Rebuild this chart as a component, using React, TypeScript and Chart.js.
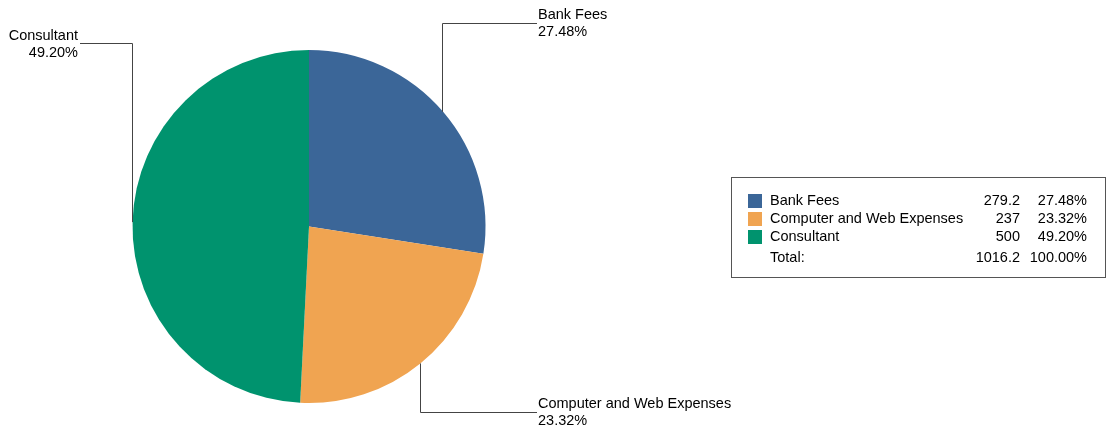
import React, { useEffect, useRef } from "react";
import { Chart, registerables } from "chart.js";

Chart.register(...registerables);

const categories = ["Bank Fees", "Computer and Web Expenses", "Consultant"];
const values = [279.2, 237, 500];
const colors = ["#3B6698", "#F0A451", "#00936E"];
const totalLabel = "Total:";

const FONT = '14.5px "Liberation Sans", Arial, sans-serif';

// percentages in hundredths, rounded so that they sum to 100.00% (largest remainder)
function percents(vals: number[]): string[] {
  const total = vals.reduce((a, b) => a + b, 0);
  const raw = vals.map((v) => (v / total) * 10000);
  const fl = raw.map((r) => Math.floor(r));
  let rest = 10000 - fl.reduce((a, b) => a + b, 0);
  const order = raw.map((r, i) => [r - Math.floor(r), i]).sort((a, b) => b[0] - a[0]);
  for (let k = 0; k < rest; k++) fl[order[k][1]] += 1;
  return fl.map((f) => (f / 100).toFixed(2) + "%");
}

const overlayPlugin = {
  id: "overlay",
  afterDraw(chart: any) {
    const ctx = chart.ctx as CanvasRenderingContext2D;
    const meta = chart.getDatasetMeta(0);
    const total = values.reduce((a, b) => a + b, 0);
    const pcts = percents(values);
    ctx.save();
    ctx.font = FONT;
    ctx.fillStyle = "#000";
    ctx.strokeStyle = "#444";
    ctx.lineWidth = 1;

    const levels = [23, 412, 43];
    meta.data.forEach((arc: any, i: number) => {
      const p = arc.getProps(["x", "y", "startAngle", "endAngle", "outerRadius"], true);
      const mid = (p.startAngle + p.endAngle) / 2;
      const right = Math.cos(mid) >= 0;
      const ex = right
        ? Math.round(p.x + Math.cos(mid) * (p.outerRadius - 1)) + 0.5
        : Math.floor(p.x + Math.cos(mid) * p.outerRadius) + 0.5;
      const ey = p.y + Math.sin(mid) * p.outerRadius;
      const ly = levels[i] + 0.5;
      const hx = right ? p.x + 228 : p.x - 229;
      ctx.beginPath();
      ctx.moveTo(ex, ey);
      ctx.lineTo(ex, ly);
      ctx.lineTo(hx, ly);
      ctx.stroke();
      ctx.textBaseline = "middle";
      if (right) {
        ctx.textAlign = "left";
        ctx.fillText(categories[i], hx + 1, ly - 9);
        ctx.fillText(pcts[i], hx + 1, ly + 8);
      } else {
        ctx.textAlign = "right";
        ctx.fillText(categories[i], hx - 2, ly - 8);
        ctx.fillText(pcts[i], hx - 2, ly + 9);
      }
    });

    const bx = 731.5, by = 177.5, bw = 374, bh = 100;
    ctx.strokeStyle = "#555";
    ctx.strokeRect(bx, by, bw, bh);
    const rowY = [201, 219, 237];
    ctx.textBaseline = "middle";
    categories.forEach((c, i) => {
      ctx.fillStyle = colors[i];
      ctx.fillRect(748, rowY[i] - 7, 14, 14);
      ctx.fillStyle = "#000";
      ctx.textAlign = "left";
      ctx.fillText(c, 770, rowY[i]);
      ctx.textAlign = "right";
      ctx.fillText(String(values[i]), 1020, rowY[i]);
      ctx.fillText(pcts[i], 1087, rowY[i]);
    });
    const ty = 258;
    ctx.textAlign = "left";
    ctx.fillText(totalLabel, 770, ty);
    ctx.textAlign = "right";
    ctx.fillText(String(Math.round(total * 10) / 10), 1020, ty);
    ctx.fillText("100.00%", 1087, ty);
    ctx.restore();
  },
};

export default function App() {
  const ref = useRef<HTMLCanvasElement>(null);
  useEffect(() => {
    const chart = new Chart(ref.current!, {
      type: "pie",
      data: {
        labels: categories,
        datasets: [
          {
            data: values,
            backgroundColor: colors,
            borderWidth: 0,
          },
        ],
      },
      options: {
        animation: false,
        responsive: false,
        layout: { padding: { left: 132, right: 621, top: 50, bottom: 33 } },
        plugins: { legend: { display: false }, tooltip: { enabled: false } },
      },
      plugins: [overlayPlugin],
    });
    return () => chart.destroy();
  }, []);
  return (
    <div style={{ position: "fixed", left: 0, top: 0, width: 1107, height: 436, background: "#fff" }}>
      <canvas ref={ref} width={1107} height={436} style={{ display: "block" }} />
    </div>
  );
}
